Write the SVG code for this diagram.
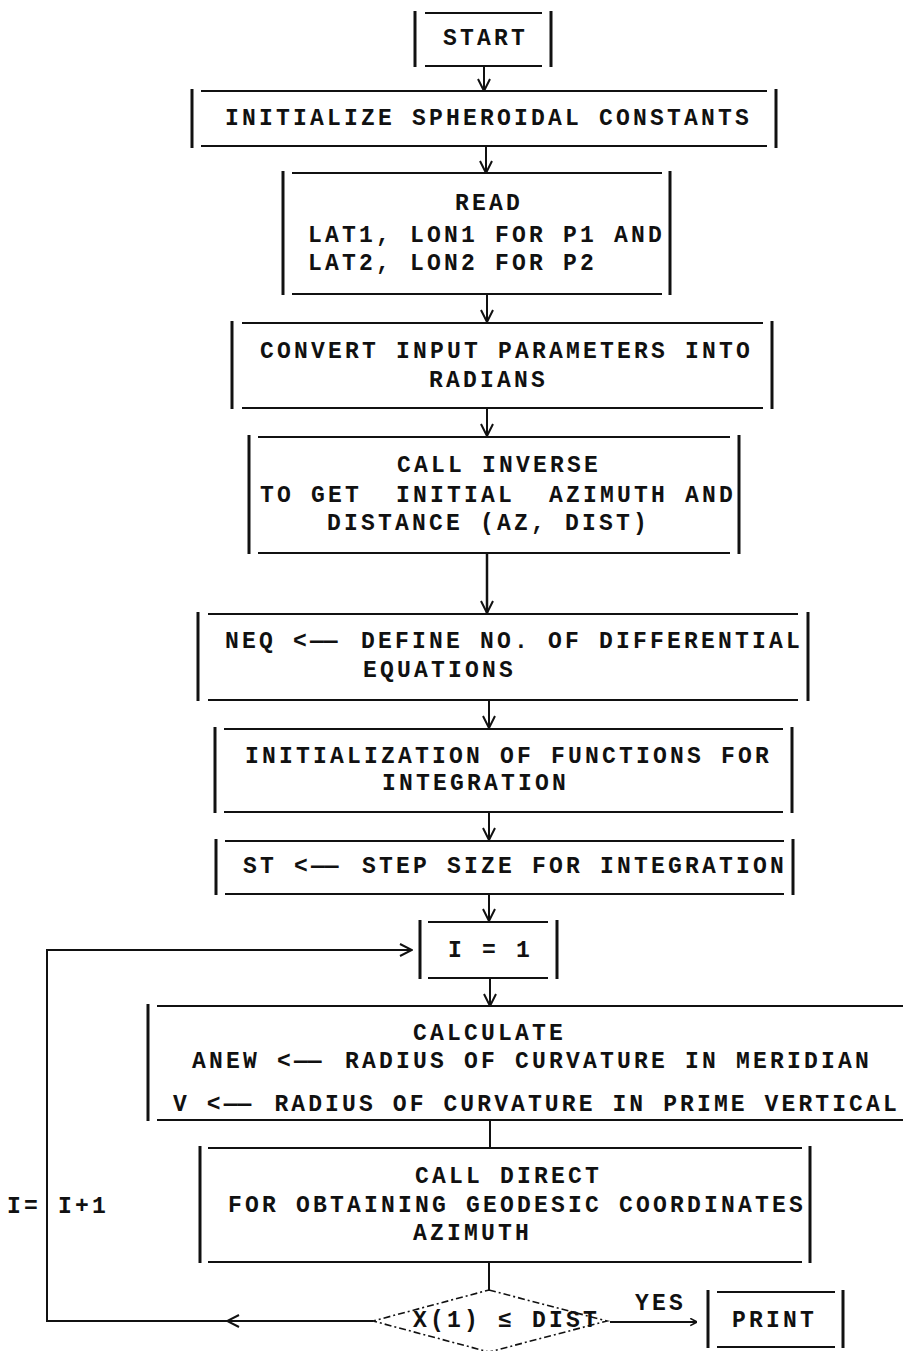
<svg xmlns="http://www.w3.org/2000/svg" width="903" height="1351" viewBox="0 0 903 1351">
<style>
  .bg { fill: #ffffff; }
  .v { stroke: #111; stroke-width: 3; fill: none; }
  .h { stroke: #111; stroke-width: 2; fill: none; }
  .c { stroke: #111; stroke-width: 2; fill: none; }
  .ct { stroke: #111; stroke-width: 2.5; fill: none; }
  .dia { stroke: #111; stroke-width: 1.6; fill: none; stroke-dasharray: 7 3 2 3; }
  text { font-family: "Liberation Mono", "DejaVu Sans Mono", monospace; font-size: 23px; font-weight: bold; letter-spacing: 3.2px; fill: #111; }
  .nd { letter-spacing: 0px; }
  .tight { letter-spacing: 3.1px; }
</style>
<defs>
  <marker id="arr" viewBox="0 0 14 14" refX="13.5" refY="7" markerWidth="14" markerHeight="14" orient="auto" markerUnits="userSpaceOnUse">
    <path d="M1.5,1 L13.5,7 L1.5,13" fill="none" stroke="#111" stroke-width="2"/>
  </marker>
  <marker id="arrs" viewBox="0 0 10 10" refX="9.5" refY="5" markerWidth="9" markerHeight="9" orient="auto" markerUnits="userSpaceOnUse">
    <path d="M2,1 L9.5,5 L2,9" fill="none" stroke="#111" stroke-width="1.8"/>
  </marker>
</defs>
<rect class="bg" x="0" y="0" width="903" height="1351"/>

<g id="connectors">
  <line class="c" x1="484" y1="66" x2="484" y2="91" marker-end="url(#arr)"/>
  <line class="c" x1="486" y1="146" x2="486" y2="173" marker-end="url(#arr)"/>
  <line class="c" x1="487" y1="294" x2="487" y2="322" marker-end="url(#arr)"/>
  <line class="c" x1="487" y1="408" x2="487" y2="436" marker-end="url(#arr)"/>
  <line class="ct" x1="487" y1="553" x2="487" y2="613" marker-end="url(#arr)"/>
  <line class="c" x1="489" y1="700" x2="489" y2="728" marker-end="url(#arr)"/>
  <line class="c" x1="489" y1="812" x2="489" y2="840" marker-end="url(#arr)"/>
  <line class="c" x1="489" y1="894" x2="489" y2="921" marker-end="url(#arr)"/>
  <line class="c" x1="490" y1="978" x2="490" y2="1006" marker-end="url(#arr)"/>
  <line class="c" x1="490" y1="1120" x2="490" y2="1148"/>
  <line class="c" x1="489" y1="1262" x2="489" y2="1290"/>
  <line class="h" x1="610" y1="1322" x2="697" y2="1322" marker-end="url(#arrs)"/>
  <line class="c" x1="373" y1="1321" x2="227" y2="1321" marker-end="url(#arr)"/>
  <path class="c" d="M227,1321 L47,1321 L47,950 L412,950" marker-end="url(#arr)"/>
  <text x="635" y="1310">YES</text>
  <text x="7" y="1213">I=</text>
  <text x="58" y="1213">I+1</text>
</g>

<g id="start">
  <line class="v" x1="415" y1="11" x2="415" y2="67"/>
  <line class="v" x1="551" y1="11" x2="551" y2="67"/>
  <line class="h" x1="425" y1="13" x2="542" y2="13"/>
  <line class="h" x1="425" y1="66" x2="542" y2="66"/>
  <text x="443" y="45">START</text>
</g>

<g id="init-constants">
  <line class="v" x1="192" y1="89" x2="192" y2="148"/>
  <line class="v" x1="776" y1="89" x2="776" y2="148"/>
  <line class="h" x1="201" y1="91" x2="767" y2="91"/>
  <line class="h" x1="201" y1="146" x2="767" y2="146"/>
  <text x="225" y="125">INITIALIZE SPHEROIDAL CONSTANTS</text>
</g>

<g id="read">
  <line class="v" x1="283" y1="171" x2="283" y2="295"/>
  <line class="v" x1="670" y1="171" x2="670" y2="295"/>
  <line class="h" x1="292" y1="173" x2="662" y2="173"/>
  <line class="h" x1="292" y1="294" x2="662" y2="294"/>
  <text x="455" y="210">READ</text>
  <text x="308" y="242">LAT1, LON1 FOR P1 AND</text>
  <text x="308" y="270">LAT2, LON2 FOR P2</text>
</g>

<g id="convert">
  <line class="v" x1="232" y1="321" x2="232" y2="409"/>
  <line class="v" x1="772" y1="321" x2="772" y2="409"/>
  <line class="h" x1="242" y1="323" x2="763" y2="323"/>
  <line class="h" x1="242" y1="408" x2="763" y2="408"/>
  <text x="260" y="358">CONVERT INPUT PARAMETERS INTO</text>
  <text x="429" y="387">RADIANS</text>
</g>

<g id="call-inverse">
  <line class="v" x1="249" y1="435" x2="249" y2="554"/>
  <line class="v" x1="739" y1="435" x2="739" y2="554"/>
  <line class="h" x1="258" y1="437" x2="730" y2="437"/>
  <line class="h" x1="258" y1="553" x2="730" y2="553"/>
  <text x="397" y="472">CALL INVERSE</text>
  <text x="260" y="502" xml:space="preserve">TO GET  INITIAL  AZIMUTH AND</text>
  <text x="327" y="530">DISTANCE (AZ, DIST)</text>
</g>

<g id="neq">
  <line class="v" x1="198" y1="612" x2="198" y2="701"/>
  <line class="v" x1="808" y1="612" x2="808" y2="701"/>
  <line class="h" x1="208" y1="614" x2="798" y2="614"/>
  <line class="h" x1="208" y1="700" x2="798" y2="700"/>
  <text x="225" y="648">NEQ &lt;<tspan class="nd">——</tspan><tspan dx="6.4"> DEFINE NO. OF DIFFERENTIAL</tspan></text>
  <text x="363" y="677">EQUATIONS</text>
</g>

<g id="init-functions">
  <line class="v" x1="215" y1="727" x2="215" y2="813"/>
  <line class="v" x1="792" y1="727" x2="792" y2="813"/>
  <line class="h" x1="224" y1="729" x2="783" y2="729"/>
  <line class="h" x1="224" y1="812" x2="783" y2="812"/>
  <text x="245" y="763">INITIALIZATION OF FUNCTIONS FOR</text>
  <text x="382" y="790">INTEGRATION</text>
</g>

<g id="step-size">
  <line class="v" x1="216" y1="839" x2="216" y2="895"/>
  <line class="v" x1="793" y1="839" x2="793" y2="895"/>
  <line class="h" x1="225" y1="841" x2="784" y2="841"/>
  <line class="h" x1="225" y1="894" x2="784" y2="894"/>
  <text x="243" y="873">ST &lt;<tspan class="nd">——</tspan><tspan dx="6.4"> STEP SIZE FOR INTEGRATION</tspan></text>
</g>

<g id="i-equals-1">
  <line class="v" x1="420" y1="920" x2="420" y2="979"/>
  <line class="v" x1="557" y1="920" x2="557" y2="979"/>
  <line class="h" x1="428" y1="922" x2="548" y2="922"/>
  <line class="h" x1="428" y1="978" x2="548" y2="978"/>
  <text x="448" y="957">I = 1</text>
</g>

<g id="calculate">
  <line class="v" x1="148" y1="1004" x2="148" y2="1121"/>
  <line class="h" x1="157" y1="1006" x2="903" y2="1006"/>
  <line class="h" x1="157" y1="1120" x2="903" y2="1120"/>
  <text x="413" y="1040">CALCULATE</text>
  <text x="192" y="1068">ANEW &lt;<tspan class="nd">——</tspan><tspan dx="6.4"> RADIUS OF CURVATURE IN MERIDIAN</tspan></text>
  <text class="tight" x="173" y="1111">V &lt;<tspan class="nd">——</tspan><tspan dx="6.2"> RADIUS OF CURVATURE IN PRIME VERTICAL</tspan></text>
</g>

<g id="call-direct">
  <line class="v" x1="200" y1="1146" x2="200" y2="1263"/>
  <line class="v" x1="810" y1="1146" x2="810" y2="1263"/>
  <line class="h" x1="208" y1="1148" x2="802" y2="1148"/>
  <line class="h" x1="208" y1="1262" x2="802" y2="1262"/>
  <text x="415" y="1183">CALL DIRECT</text>
  <text x="228" y="1212">FOR OBTAINING GEODESIC COORDINATES</text>
  <text x="413" y="1240">AZIMUTH</text>
</g>

<g id="decision">
  <polygon class="dia" points="489,1290 607,1321 489,1352 373,1321"/>
  <text x="413" y="1327">X(1) ≤ DIST</text>
</g>

<g id="print">
  <line class="v" x1="708" y1="1290" x2="708" y2="1348"/>
  <line class="v" x1="843" y1="1290" x2="843" y2="1348"/>
  <line class="h" x1="717" y1="1292" x2="835" y2="1292"/>
  <line class="h" x1="717" y1="1347" x2="835" y2="1347"/>
  <text x="732" y="1327">PRINT</text>
</g>
</svg>
